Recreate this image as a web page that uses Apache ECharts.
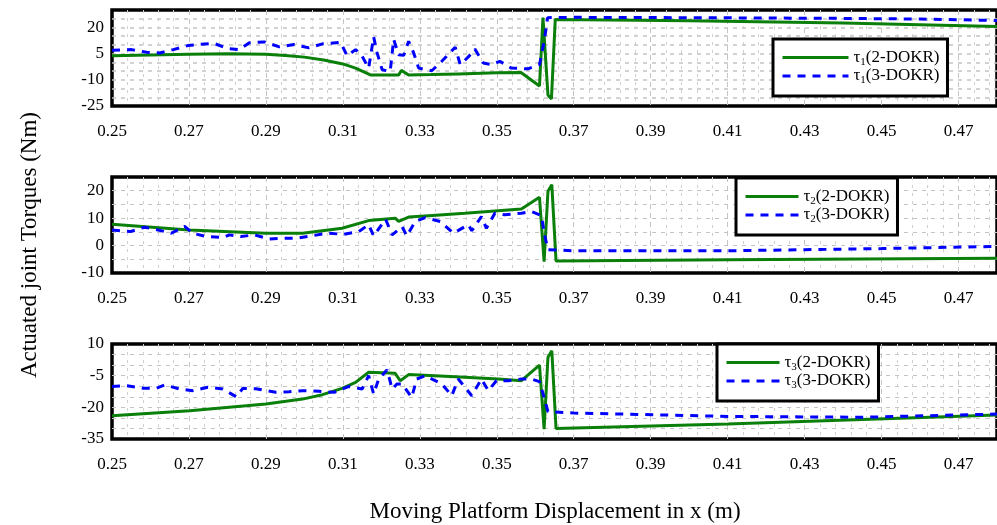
<!DOCTYPE html>
<html>
<head>
<meta charset="utf-8">
<script src="https://cdn.jsdelivr.net/npm/echarts@6/dist/echarts.min.js"></script>
<style>
  html, body { margin: 0; padding: 0; background: #fff; }
  #main { width: 997px; height: 525px; }
</style>
</head>
<body>
<div id="main"></div>
<script>
// tau1 - 2-DOKR (green) / 3-DOKR (blue dashed)
var t1TwoX = [0.25, 0.26, 0.27, 0.28, 0.29, 0.295, 0.30, 0.305, 0.31, 0.3133, 0.3173, 0.322, 0.3245, 0.3252, 0.3271, 0.333, 0.34, 0.35, 0.3563, 0.3611, 0.3620, 0.3633, 0.3642, 0.3652, 0.40, 0.44, 0.48]
var t1TwoY = [3.8, 4.2, 4.7, 4.9, 4.6, 4.0, 3.0, 1.4, -0.9, -3.3, -7.3, -7.2, -7.3, -4.6, -7.2, -7.0, -6.6, -6.0, -5.8, -13.5, 25.6, -18.7, -21.0, 24.6, 23.8, 22.5, 20.6]
var t1ThreeX = [0.25, 0.2551, 0.259, 0.2624, 0.2659, 0.2697, 0.2732, 0.2766, 0.2801, 0.2831, 0.2857, 0.2896, 0.2935, 0.2973, 0.3012, 0.3047, 0.3094, 0.3111, 0.3133, 0.315, 0.3167, 0.318, 0.3189, 0.3202, 0.3223, 0.3232, 0.3245, 0.3258, 0.3271, 0.3284, 0.3297, 0.3331, 0.3357, 0.3392, 0.3405, 0.3426, 0.3443, 0.3465, 0.3486, 0.3508, 0.3538, 0.3581, 0.3611, 0.3624, 0.3632, 0.37, 0.40, 0.44, 0.46, 0.48]
var t1ThreeY = [6.9, 7.3, 5.8, 5.4, 7.3, 9.6, 10.4, 10.8, 7.9, 7.3, 11.2, 11.7, 8.9, 10.2, 8.3, 10.6, 11.5, 3.8, 7.3, 3.5, -3.3, 14.6, 5.4, -4.2, -5.2, 13.1, 4.4, 4.0, 12.1, 5.4, -3.3, -4.8, 0.6, 8.7, -1.3, 3.1, 7.7, -0.4, -1.3, 0.6, -3.3, -3.7, -1.3, 13.1, 25.6, 25.8, 25.6, 25.2, 24.8, 24.0]

// tau2
var t2TwoX = [0.25, 0.27, 0.29, 0.2995, 0.3098, 0.3167, 0.3236, 0.3245, 0.3271, 0.3323, 0.3417, 0.3564, 0.3611, 0.3623, 0.3633, 0.3643, 0.3654, 0.41, 0.48]
var t2TwoY = [7.8, 5.7, 4.5, 4.5, 6.3, 9.1, 10.0, 8.8, 10.4, 10.9, 11.8, 13.3, 17.6, -5.9, 19.8, 22.2, -5.6, -5.2, -4.6]
var t2ThreeX = [0.25, 0.2547, 0.2585, 0.262, 0.2654, 0.2689, 0.271, 0.2745, 0.2788, 0.2805, 0.2835, 0.287, 0.2909, 0.2943, 0.2982, 0.3017, 0.306, 0.3103, 0.3141, 0.3167, 0.318, 0.3211, 0.3228, 0.3254, 0.3266, 0.3288, 0.3314, 0.3353, 0.3387, 0.3426, 0.3435, 0.346, 0.3473, 0.3495, 0.3521, 0.3564, 0.359, 0.3616, 0.3624, 0.3633, 0.37, 0.41, 0.43, 0.45, 0.48]
var t2ThreeY = [5.7, 5.1, 6.7, 5.7, 4.5, 7.0, 4.5, 3.3, 2.9, 3.9, 3.3, 3.9, 2.4, 2.7, 2.7, 3.5, 4.5, 4.1, 5.1, 7.6, 3.5, 9.6, 3.9, 6.9, 3.5, 8.8, 10.2, 8.8, 4.5, 7.6, 5.4, 10.6, 6.3, 11.8, 11.2, 11.8, 12.4, 10.9, 4.1, -1.5, -1.9, -1.9, -1.5, -1.1, -0.3]

// tau3
var t3TwoX = [0.25, 0.2702, 0.29, 0.2995, 0.3047, 0.3098, 0.3133, 0.3167, 0.3236, 0.3249, 0.3271, 0.3392, 0.3504, 0.3564, 0.3611, 0.3623, 0.3633, 0.3643, 0.3654, 0.41, 0.445, 0.48]
var t3TwoY = [-24.0, -21.6, -18.4, -16.1, -14.0, -11.0, -8.2, -3.4, -3.9, -7.4, -4.5, -5.5, -6.6, -7.4, 0.0, -30.3, 3.7, 6.8, -30.0, -27.9, -25.8, -23.6]
var t3ThreeX = [0.25, 0.2538, 0.2581, 0.2616, 0.2637, 0.2676, 0.271, 0.2749, 0.2788, 0.2823, 0.284, 0.2874, 0.2926, 0.296, 0.2995, 0.3038, 0.3077, 0.3116, 0.315, 0.3167, 0.318, 0.3193, 0.3215, 0.3228, 0.3241, 0.3254, 0.3279, 0.3292, 0.3314, 0.3357, 0.3383, 0.34, 0.3435, 0.346, 0.3478, 0.3499, 0.353, 0.3564, 0.359, 0.3611, 0.3624, 0.3633, 0.37, 0.41, 0.445, 0.48]
var t3ThreeY = [-10.1, -9.7, -11.0, -10.9, -9.4, -11.3, -12.1, -10.5, -11.3, -15.0, -11.0, -11.2, -12.9, -12.6, -12.1, -12.4, -12.9, -10.1, -11.3, -5.0, -13.7, -6.6, -2.2, -11.3, -8.9, -8.9, -15.3, -6.6, -5.0, -8.9, -14.5, -6.6, -14.5, -6.6, -12.1, -7.4, -7.4, -6.6, -6.6, -7.8, -16.0, -22.0, -22.7, -24.3, -24.7, -23.2]

// y range / label steps of each panel
var yMins = [-25, -10, -35]
var yMaxs = [30, 25, 10]
var yLabelSteps = [15, 10, 15]
var xTicks = [0.25, 0.48, 0.02]

var FONT = '"Liberation Serif", "Times New Roman", serif'
var GREEN = '#0a7f0a'
var BLUE = '#0000ff'
var gridTops = [10, 177, 344]
var gridHeights = [96, 96, 95]

function pairs(xs, ys) {
  return xs.map(function (x, i) { return [x, ys[i]] })
}

var chart = echarts.init(document.getElementById('main'))

var grids = [], xAxes = [], yAxes = []
for (var i = 0; i < 3; i++) {
  grids.push({
    left: 112, right: -5, top: gridTops[i], height: gridHeights[i],
    show: true, borderColor: '#000', borderWidth: 3.5, backgroundColor: 'transparent'
  })
  xAxes.push({
    type: 'value', gridIndex: i,
    min: xTicks[0], max: xTicks[1], interval: xTicks[2],
    axisLine: { show: false }, axisTick: { show: false },
    axisLabel: {
      showMaxLabel: false, margin: 17, color: '#000', fontFamily: FONT, fontSize: 17,
      formatter: function (v) { return v.toFixed(2) }
    },
    splitLine: { show: true, showMinLine: false, showMaxLine: false, lineStyle: { color: '#c4c4c4', type: [5, 4], width: 1 } },
    minorTick: { show: false, splitNumber: 5 },
    minorSplitLine: { show: true, lineStyle: { color: '#d0d0d0', type: [3, 5], width: 1 } }
  })
  ;(function (k) {
    yAxes.push({
      type: 'value', gridIndex: k,
      min: yMins[k], max: yMaxs[k], interval: 5,
      axisLine: { show: false }, axisTick: { show: false },
      axisLabel: {
        margin: 8, color: '#000', fontFamily: FONT, fontSize: 17,
        formatter: function (v) {
          var d = Math.round(v - yMins[k])
          return d % yLabelSteps[k] === 0 ? String(Math.round(v)) : ''
        }
      },
      splitLine: { show: true, showMinLine: false, showMaxLine: false, lineStyle: { color: '#c4c4c4', type: [4, 5], width: k === 0 ? 1.5 : 1 } }
    })
  })(i)
}

function lineSeries(name, xs, ys, idx, dashed) {
  return {
    name: name, type: 'line', xAxisIndex: idx, yAxisIndex: idx,
    data: pairs(xs, ys), symbol: 'none', animation: false,
    lineStyle: dashed ? { color: BLUE, width: 3, type: [8, 7] } : { color: GREEN, width: 3 },
    itemStyle: { color: dashed ? BLUE : GREEN }
  }
}

var legendRich = {
  a: { fontFamily: FONT, fontSize: 17, lineHeight: 20, color: '#000' },
  b: { fontFamily: FONT, fontSize: 11, verticalAlign: 'bottom', color: '#000' }
}
function legendFmt(name) {
  return '{a|τ}{b|' + name.charAt(1) + '}{a|' + name.slice(2) + '}'
}
function legendBox(names, left, top, w) {
  return {
    data: names, orient: 'vertical', left: left, top: top,
    itemWidth: w, itemHeight: 14, itemGap: 0, padding: [10, 8, 10, 8],
    borderColor: '#000', borderWidth: 3, backgroundColor: '#fff', borderRadius: 0,
    selectedMode: false, formatter: legendFmt,
    itemStyle: { opacity: 0 },
    lineStyle: { width: 3 },
    textStyle: { rich: legendRich }
  }
}

chart.setOption({
  animation: false,
  grid: grids,
  xAxis: xAxes,
  yAxis: yAxes,
  legend: [
    legendBox(['τ1(2-DOKR)', 'τ1(3-DOKR)'], 773, 39, 66),
    legendBox(['τ2(2-DOKR)', 'τ2(3-DOKR)'], 736, 178, 53),
    legendBox(['τ3(2-DOKR)', 'τ3(3-DOKR)'], 717, 344, 53)
  ],
  series: [
    lineSeries('τ1(2-DOKR)', t1TwoX, t1TwoY, 0, false),
    lineSeries('τ1(3-DOKR)', t1ThreeX, t1ThreeY, 0, true),
    lineSeries('τ2(2-DOKR)', t2TwoX, t2TwoY, 1, false),
    lineSeries('τ2(3-DOKR)', t2ThreeX, t2ThreeY, 1, true),
    lineSeries('τ3(2-DOKR)', t3TwoX, t3TwoY, 2, false),
    lineSeries('τ3(3-DOKR)', t3ThreeX, t3ThreeY, 2, true)
  ],
  graphic: [
    {
      type: 'text', x: 30, y: 245, rotation: Math.PI / 2,
      style: { text: 'Actuated joint Torques (Nm)', fontFamily: FONT, fontSize: 23, fill: '#000', align: 'center', verticalAlign: 'middle' }
    },
    {
      type: 'text', x: 555, y: 512,
      style: { text: 'Moving Platform Displacement in x (m)', fontFamily: FONT, fontSize: 23, fill: '#000', align: 'center', verticalAlign: 'middle' }
    }
  ]
})
</script>
</body>
</html>
